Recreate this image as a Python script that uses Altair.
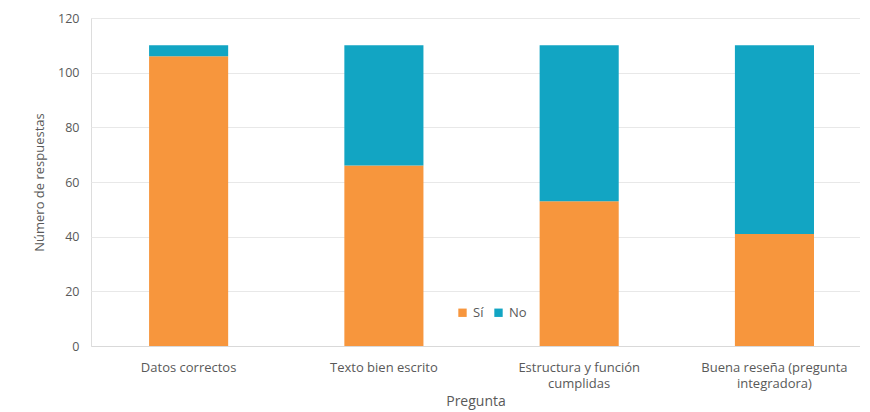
import altair as alt
import pandas as pd

preguntas = ["Datos correctos", "Texto bien escrito", "Estructura y función cumplidas",
             "Buena reseña (pregunta integradora)"]
si = [106, 66, 53, 41]
no = [4, 44, 57, 69]
series = ["Sí", "No"]
colores = ["#F7963D", "#12A5C3"]

rows = []
for p, s, n in zip(preguntas, si, no):
    rows.append({"Pregunta": p, "Respuesta": "Sí", "Valor": s, "orden": 0})
    rows.append({"Pregunta": p, "Respuesta": "No", "Valor": n, "orden": 1})
df = pd.DataFrame(rows)

font = "Open Sans"
gray = "#595959"

label_expr = ("datum.label == 'Estructura y función cumplidas' ? ['Estructura y función', 'cumplidas'] : "
              "datum.label == 'Buena reseña (pregunta integradora)' ? ['Buena reseña (pregunta', 'integradora)'] : datum.label")

chart = alt.Chart(df).mark_bar().encode(
    x=alt.X("Pregunta:N", sort=preguntas,
            scale=alt.Scale(paddingInner=0.595, paddingOuter=0.2665, align=0.558),
            axis=alt.Axis(title="Pregunta", labelAngle=0, labelExpr=label_expr,
                          labelFont=font, labelFontSize=13, labelColor=gray,
                          titleFont=font, titleFontSize=14, titleColor=gray, titleFontWeight="normal",
                          domainColor="#D9D9D9", ticks=False, labelPadding=15, titlePadding=4,
                          labelLineHeight=16)),
    y=alt.Y("Valor:Q", stack="zero",
            scale=alt.Scale(domain=[0, 120]),
            axis=alt.Axis(title="Número de respuestas", values=[0, 20, 40, 60, 80, 100, 120],
                          labelFont=font, labelFontSize=12.5, labelColor=gray,
                          titleFont=font, titleFontSize=13, titleColor=gray, titleFontWeight="normal",
                          domain=False, ticks=False, gridColor="#E8E8E8", labelPadding=12,
                          titlePadding=11)),
    color=alt.Color("Respuesta:N", scale=alt.Scale(domain=series, range=colores),
                    legend=alt.Legend(title=None, orient="none", legendX=365, legendY=288,
                                      direction="horizontal", symbolType="square", symbolSize=70,
                                      labelFont=font, labelFontSize=13, labelColor=gray,
                                      columnPadding=8)),
    order=alt.Order("orden:Q", sort="ascending"),
).properties(
    width=769, height=328,
    autosize=alt.AutoSizeParams(type="none"),
    padding={"left": 83, "top": 10, "right": 0, "bottom": 70},
).configure_view(stroke=None).configure(background="white")

chart.save("out.html", embed_options={"renderer": "svg", "actions": False})
